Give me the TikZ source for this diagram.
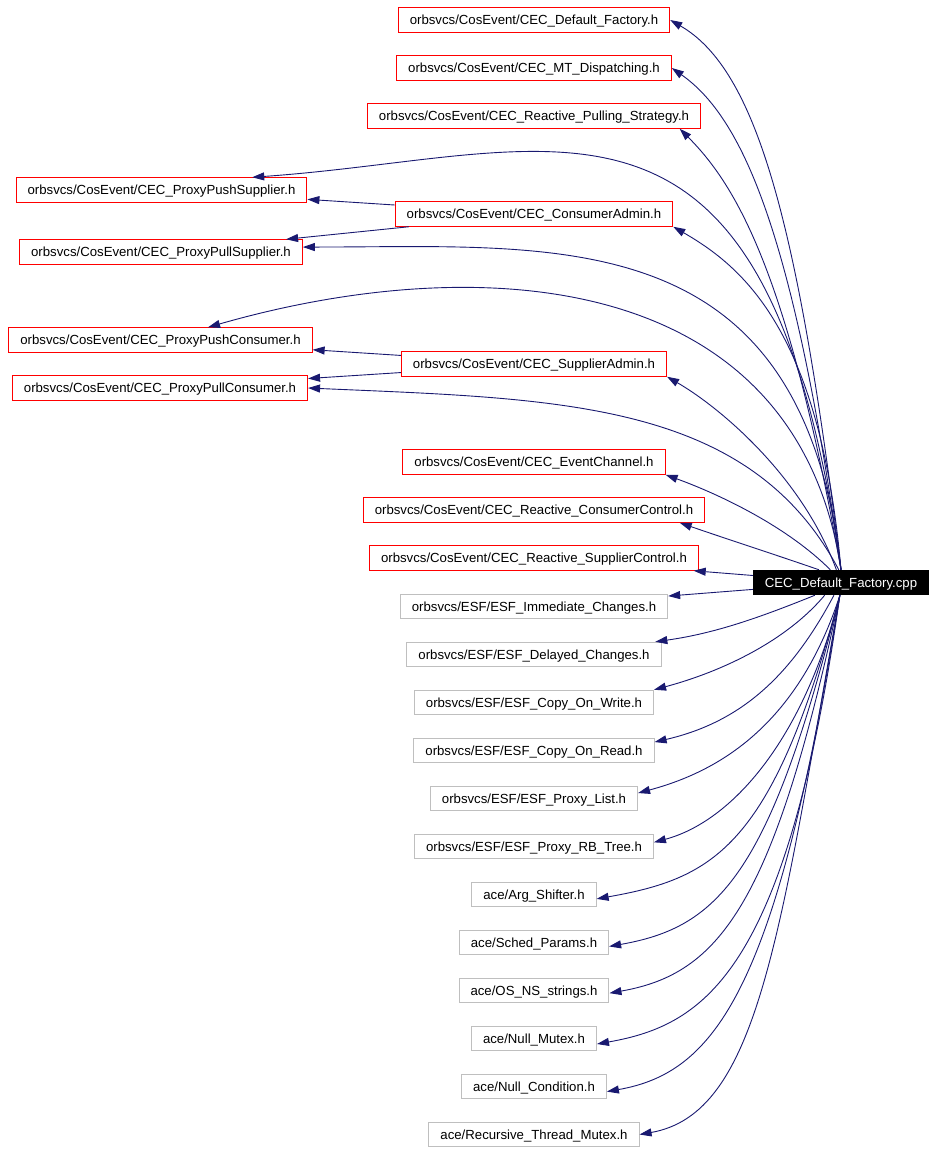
\documentclass[tikz,border=0pt]{standalone}
\usepackage{fontspec}
\setmainfont{Liberation Sans}
\usetikzlibrary{arrows.meta}
\definecolor{depblue}{RGB}{25,25,112}
\definecolor{boxgray}{RGB}{191,191,191}

\begin{document}
\begin{tikzpicture}[x=1pt,y=1pt,
        hdr/.style={draw, line width=1pt, minimum height=24.5pt, inner xsep=11.5pt, inner ysep=0pt,
            text height=10pt, text depth=1pt, font=\fontsize{13.2}{15}\selectfont},
        cos/.style={hdr, draw=red},
        ext/.style={hdr, draw=boxgray},
        src/.style={hdr, draw=black, fill=black, text=white},
        dep/.style={draw=depblue, line width=0.9pt, -{Triangle[length=12pt,width=8pt]}}]
        \useasboundingbox (0,0) rectangle (936,-1152);
        % CosEvent headers
        \node[cos] (df) at (534,-20) {orbsvcs/CosEvent/CEC\_Default\_Factory.h};
        \node[cos] (mtd) at (534,-68) {orbsvcs/CosEvent/CEC\_MT\_Dispatching.h};
        \node[cos] (rps) at (534,-116) {orbsvcs/CosEvent/CEC\_Reactive\_Pulling\_Strategy.h};
        \node[cos] (pps) at (161.5,-190) {orbsvcs/CosEvent/CEC\_ProxyPushSupplier.h};
        \node[cos] (cadm) at (534,-214) {orbsvcs/CosEvent/CEC\_ConsumerAdmin.h};
        \node[cos] (ppls) at (161,-252) {orbsvcs/CosEvent/CEC\_ProxyPullSupplier.h};
        \node[cos] (ppc) at (160.5,-340) {orbsvcs/CosEvent/CEC\_ProxyPushConsumer.h};
        \node[cos] (sadm) at (534,-364) {orbsvcs/CosEvent/CEC\_SupplierAdmin.h};
        \node[cos] (pplc) at (160,-388) {orbsvcs/CosEvent/CEC\_ProxyPullConsumer.h};
        \node[cos] (ec) at (534,-462) {orbsvcs/CosEvent/CEC\_EventChannel.h};
        \node[cos] (rcc) at (534,-510) {orbsvcs/CosEvent/CEC\_Reactive\_ConsumerControl.h};
        \node[cos] (rsc) at (534,-558) {orbsvcs/CosEvent/CEC\_Reactive\_SupplierControl.h};
        % the file
        \node[src] (cpp) at (841,-582.5) {CEC\_Default\_Factory.cpp};
        % ESF and ace headers
        \node[ext] (imm) at (534,-606.5) {orbsvcs/ESF/ESF\_Immediate\_Changes.h};
        \node[ext] (dly) at (534,-654.5) {orbsvcs/ESF/ESF\_Delayed\_Changes.h};
        \node[ext] (cow) at (534,-702.5) {orbsvcs/ESF/ESF\_Copy\_On\_Write.h};
        \node[ext] (cor) at (534,-750.5) {orbsvcs/ESF/ESF\_Copy\_On\_Read.h};
        \node[ext] (plist) at (534,-798.5) {orbsvcs/ESF/ESF\_Proxy\_List.h};
        \node[ext] (rbt) at (534,-846.5) {orbsvcs/ESF/ESF\_Proxy\_RB\_Tree.h};
        \node[ext] (args) at (534,-894.5) {ace/Arg\_Shifter.h};
        \node[ext] (sched) at (534,-942.5) {ace/Sched\_Params.h};
        \node[ext] (osns) at (534,-990.5) {ace/OS\_NS\_strings.h};
        \node[ext] (nmtx) at (534,-1038.5) {ace/Null\_Mutex.h};
        \node[ext] (ncond) at (534,-1086.5) {ace/Null\_Condition.h};
        \node[ext] (rtm) at (534,-1134.5) {ace/Recursive\_Thread\_Mutex.h};
        % upward includes
        \draw[dep] (cpp.north) .. controls +(97:350) and +(-30:100) .. (df.east);
        \draw[dep] (cpp.north) .. controls +(98:330) and +(-35:90) .. (mtd.east);
        \draw[dep] (cpp.north) .. controls +(100:300) and +(-45:80) .. (rps.-5);
        \draw[dep] (cpp.north) .. controls +(98:535) and +(4:310) .. (pps.8);
        \draw[dep] (cpp.north) .. controls +(95:240) and +(-30:80) .. (cadm.south east);
        \draw[dep] (cpp.north) .. controls +(96.5:352) and +(0:257) .. (ppls.2);
        \draw[dep] (cpp.north) .. controls +(98.5:303) and +(16:284) .. (ppc.15);
        \draw[dep] (cpp.100) .. controls +(118:192) and +(-2.5:251) .. (pplc.east);
        \draw[dep] (cpp.110) .. controls +(110:100) and +(-30:60) .. (sadm.south east);
        \draw[dep] (cpp.130) .. controls +(135:60) and +(-20:60) .. (ec.south east);
        \draw[dep] (cpp.150) .. controls +(161:50) and +(-19:50) .. (rcc.-5.5);
        \draw[dep] (cpp) -- (rsc);
        \draw[dep] (cpp) -- (imm);
        % admins to proxies
        \draw[dep] (cadm) -- (pps);
        \draw[dep] (cadm) -- (ppls);
        \draw[dep] (sadm) -- (ppc);
        \draw[dep] (sadm) -- (pplc);
        % downward includes
        \draw[dep] (cpp.-154) .. controls +(-158:60) and +(8:60) .. (dly.6);
        \draw[dep] (cpp.-142) .. controls +(-130:60) and +(15:70) .. (cow.north east);
        \draw[dep] (cpp.-119) .. controls +(-118:90) and +(13:90) .. (cor.4);
        \draw[dep] (cpp.-95) .. controls +(-108:140) and +(15:80) .. (plist.3);
        \draw[dep] (cpp.-95) .. controls +(-104:150) and +(15:80) .. (rbt.2);
        \draw[dep] (cpp.-95) .. controls +(-105:260) and +(10:120) .. (args.-4);
        \draw[dep] (cpp.-95) .. controls +(-104:290) and +(10:110) .. (sched.-3);
        \draw[dep] (cpp.-95) .. controls +(-102:320) and +(10:110) .. (osns.-2);
        \draw[dep] (cpp.-95) .. controls +(-98:380) and +(10:110) .. (nmtx.-5);
        \draw[dep] (cpp.-95) .. controls +(-99:400) and +(10:110) .. (ncond.-4);
        \draw[dep] (cpp.-95) .. controls +(-100:350) and +(10:120) .. (rtm.east);
    \end{tikzpicture}
\end{document}
